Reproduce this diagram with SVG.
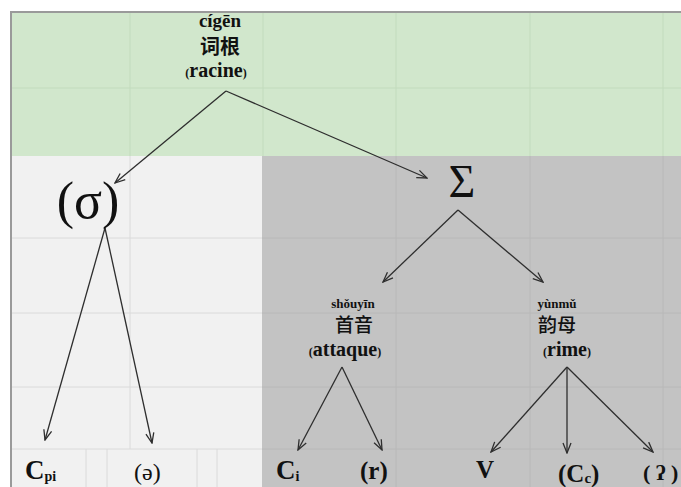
<svg xmlns="http://www.w3.org/2000/svg" width="681" height="487" viewBox="0 0 681 487">
<style>
.ser{font-family:"Liberation Serif","DejaVu Serif",serif;fill:#111}
.b{font-weight:bold}
.cjk{font-family:"Noto Sans CJK SC","Noto Sans",sans-serif;fill:#111}
.gg{stroke:#c2dbbd;stroke-width:1}
.lg{stroke:#dadada;stroke-width:1}
.dg{stroke:#b8b8b8;stroke-width:1}
.con line{stroke:#2e2e2e;stroke-width:1.3;fill:none}
</style>
<defs>
<marker id="ah" viewBox="0 0 12 10" refX="11" refY="5" markerWidth="12" markerHeight="10" orient="auto" markerUnits="userSpaceOnUse">
<path d="M1,1 L11,5 L1,9" fill="none" stroke="#2e2e2e" stroke-width="1.3"/>
</marker>
</defs>
<rect x="0" y="0" width="681" height="487" fill="#ffffff"/>
<g id="background">
<rect x="12" y="13" width="669" height="143" fill="#d1e7cc"/>
<rect x="12" y="156" width="250" height="331" fill="#f1f1f1"/>
<rect x="262" y="156" width="419" height="331" fill="#c3c3c3"/>
<g class="gg">
<line x1="130" y1="13" x2="130" y2="156"/>
<line x1="263" y1="13" x2="263" y2="156"/>
<line x1="396" y1="13" x2="396" y2="156"/>
<line x1="530" y1="13" x2="530" y2="156"/>
<line x1="663" y1="13" x2="663" y2="156"/>
<line x1="12" y1="88" x2="681" y2="88"/>
</g>
<g class="lg">
<line x1="130" y1="156" x2="130" y2="449"/>
<line x1="12" y1="238" x2="262" y2="238"/>
<line x1="12" y1="313" x2="262" y2="313"/>
<line x1="12" y1="387" x2="262" y2="387"/>
<line x1="12" y1="449" x2="262" y2="449"/>
<line x1="86" y1="449" x2="86" y2="487"/>
<line x1="107" y1="449" x2="107" y2="487"/>
<line x1="197" y1="449" x2="197" y2="487"/>
<line x1="217" y1="449" x2="217" y2="487"/>
</g>
<g class="dg">
<line x1="262" y1="238" x2="681" y2="238"/>
<line x1="262" y1="313" x2="681" y2="313"/>
<line x1="262" y1="387" x2="681" y2="387"/>
<line x1="262" y1="449" x2="681" y2="449"/>
<line x1="396" y1="156" x2="396" y2="487"/>
<line x1="530" y1="156" x2="530" y2="487"/>
<line x1="663" y1="156" x2="663" y2="487"/>
</g>
<line x1="10" y1="12" x2="681" y2="12" stroke="#9a9a9a" stroke-width="2"/>
<line x1="11" y1="12" x2="11" y2="487" stroke="#9a9a9a" stroke-width="2"/>
</g>
<g id="connectors" class="con">
<line x1="226" y1="91" x2="115" y2="183" marker-end="url(#ah)"/>
<line x1="226" y1="91" x2="427" y2="178" marker-end="url(#ah)"/>
<line x1="105" y1="228" x2="45" y2="440" marker-end="url(#ah)"/>
<line x1="105" y1="228" x2="152" y2="443" marker-end="url(#ah)"/>
<line x1="458" y1="210" x2="383" y2="282" marker-end="url(#ah)"/>
<line x1="458" y1="210" x2="543" y2="282" marker-end="url(#ah)"/>
<line x1="342" y1="367" x2="298" y2="450" marker-end="url(#ah)"/>
<line x1="342" y1="367" x2="382" y2="450" marker-end="url(#ah)"/>
<line x1="567" y1="367" x2="491" y2="452" marker-end="url(#ah)"/>
<line x1="567" y1="367" x2="567" y2="453" marker-end="url(#ah)"/>
<line x1="567" y1="367" x2="653" y2="452" marker-end="url(#ah)"/>
</g>
<g id="node-racine">
<text class="ser b" x="220" y="27" font-size="19" text-anchor="middle">cígēn</text>
<text class="cjk" x="220" y="54" font-size="20" font-weight="bold" text-anchor="middle">词根</text>
<text class="ser b" x="216" y="77" font-size="20" text-anchor="middle"><tspan font-size="12">(</tspan>racine<tspan font-size="12">)</tspan></text>
</g>
<g id="node-sigma-small">
<text class="ser" x="88" y="218" font-size="52" text-anchor="middle">(σ)</text>
</g>
<g id="node-Sigma">
<text class="ser" x="462" y="197" font-size="46" text-anchor="middle">Σ</text>
</g>
<g id="node-attaque">
<text class="ser b" x="353" y="308" font-size="13" text-anchor="middle">shǒuyīn</text>
<text class="cjk" x="354" y="332" font-size="19" font-weight="500" text-anchor="middle">首音</text>
<text class="ser b" x="345" y="356" font-size="20" text-anchor="middle"><tspan font-size="12">(</tspan>attaque<tspan font-size="12">)</tspan></text>
</g>
<g id="node-rime">
<text class="ser b" x="557" y="308" font-size="13" text-anchor="middle">yùnmǔ</text>
<text class="cjk" x="557" y="332" font-size="19" font-weight="500" text-anchor="middle">韵母</text>
<text class="ser b" x="567" y="356" font-size="20" text-anchor="middle"><tspan font-size="12">(</tspan>rime<tspan font-size="12">)</tspan></text>
</g>
<g id="node-Cpi">
<text class="ser b" x="25" y="479" font-size="27">C<tspan font-size="14" dy="2">pi</tspan></text>
</g>
<g id="node-schwa">
<text class="ser" x="134" y="480" font-size="24">(ə)</text>
</g>
<g id="node-Ci">
<text class="ser b" x="276" y="479" font-size="27">C<tspan font-size="14" dy="2">i</tspan></text>
</g>
<g id="node-r">
<text class="ser b" x="360" y="479" font-size="25">(r)</text>
</g>
<g id="node-V">
<text class="ser b" x="476" y="478" font-size="25">V</text>
</g>
<g id="node-Cc">
<text class="ser b" x="558" y="482" font-size="25">(C<tspan font-size="15" dy="1">c</tspan><tspan dy="-1">)</tspan></text>
</g>
<g id="node-glottal">
<text class="ser b" x="643" y="480" font-size="22">( ʔ )</text>
</g>
</svg>
